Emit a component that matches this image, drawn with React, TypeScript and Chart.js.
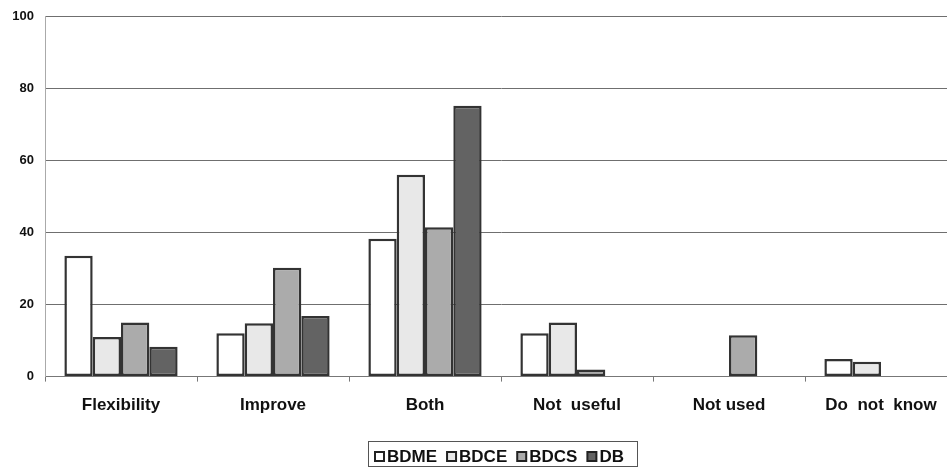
import React, { useEffect, useRef } from "react";
import { Chart, registerables } from "chart.js";

Chart.register(...registerables);

const categories = ["Flexibility", "Improve", "Both", "Not  useful", "Not used", "Do  not  know"];
const seriesNames = ["BDME", "BDCE", "BDCS", "DB"];
const bdme = [33.5, 12, 38.2, 12, null, 4.9];
const bdce = [11, 14.8, 56, 15, null, 4.1];
const bdcs = [15, 30.2, 41.4, 2, 11.5, null];
const db = [8.3, 16.8, 75.1, null, null, null];
const fills = ["#ffffff", "#e8e8e8", "#ababab", "#636363"];
const yTicks = [0, 20, 40, 60, 80, 100];

const boxLegend = {
  id: "boxLegend",
  afterDraw(chart: any) {
    const ctx = chart.ctx;
    const font = "bold 17px 'Liberation Sans', Arial, sans-serif";
    ctx.save();
    ctx.font = font;
    const box = 9;
    const gap = 3;
    const spacing = 10;
    const widths = seriesNames.map((n) => ctx.measureText(n).width);
    const total = widths.reduce((a, w) => a + box + gap + w, 0) + spacing * (seriesNames.length - 1);
    const ca = chart.chartArea;
    const padL = 7, padR = 13;
    const cx = (ca.left + ca.right) / 2 + 1;
    const outerW = total + padL + padR;
    const left = Math.round(cx - outerW / 2);
    const cy = 456.5;
    ctx.strokeStyle = "#555";
    ctx.lineWidth = 1;
    ctx.strokeRect(left + 0.5, 441.5, Math.round(outerW), 25);
    let x = left + padL;
    ctx.textBaseline = "middle";
    ctx.textAlign = "left";
    seriesNames.forEach((n, i) => {
      ctx.fillStyle = fills[i];
      ctx.fillRect(x, cy - box / 2, box, box);
      ctx.strokeStyle = "#222";
      ctx.lineWidth = 2;
      ctx.strokeRect(x, cy - box / 2, box, box);
      x += box + gap;
      ctx.fillStyle = "#111";
      ctx.fillText(n, x, cy + 1);
      x += widths[i] + spacing;
    });
    ctx.restore();
  },
};

export default function App() {
  const ref = useRef<HTMLCanvasElement>(null);
  useEffect(() => {
    const data = [bdme, bdce, bdcs, db];
    const chart = new Chart(ref.current!, {
      type: "bar",
      data: {
        labels: categories,
        datasets: seriesNames.map((n, i) => ({
          label: n,
          data: data[i] as any,
          backgroundColor: fills[i],
          borderColor: "#333333",
          borderWidth: 2.5,
          borderSkipped: false,
          categoryPercentage: 0.745,
          barPercentage: 1,
        })),
      },
      options: {
        animation: false,
        responsive: false,
        maintainAspectRatio: false,
        layout: { padding: { top: 16, right: 3, left: 0, bottom: 38 } },
        plugins: {
          tooltip: { enabled: false },
          legend: { display: false },
        },
        scales: {
          x: {
            grid: { drawOnChartArea: false, drawTicks: true, tickLength: 5, offset: true, color: "#777" },
            border: { color: "#777", width: 1 },
            ticks: {
              color: "#111",
              padding: 14,
              maxRotation: 0,
              font: { family: "Liberation Sans, Arial, sans-serif", size: 17, weight: "bold" },
            },
          },
          y: {
            min: 0,
            max: 100,
            afterFit: (s: any) => { s.width = 45; s.paddingTop = 0; s.paddingBottom = 0; },
            afterBuildTicks: (s: any) => { s.ticks = yTicks.map((v) => ({ value: v })); },
            grid: { color: "#6f6f6f", lineWidth: 1, drawTicks: false },
            border: { color: "#aaa", width: 1 },
            ticks: {
              color: "#111",
              padding: 11,
              font: { family: "Liberation Sans, Arial, sans-serif", size: 13, weight: "bold", lineHeight: 1 },
            },
          },
        },
      },
      plugins: [boxLegend],
    });
    return () => chart.destroy();
  }, []);
  return (
    <div style={{ position: "fixed", left: 0, top: 0, width: 947, height: 468, overflow: "hidden", background: "#fff" }}>
      <canvas ref={ref} width={960} height={468} style={{ display: "block" }} />
    </div>
  );
}
